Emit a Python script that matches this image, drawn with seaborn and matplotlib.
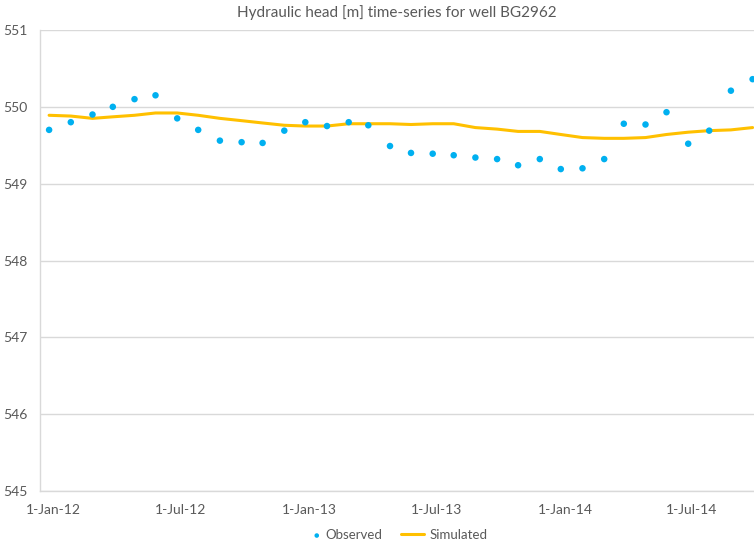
import pandas as pd
import matplotlib
matplotlib.use("Agg")
import matplotlib.pyplot as plt
import matplotlib.dates as mdates
from matplotlib.legend_handler import HandlerPathCollection
import seaborn as sns

# monthly observation dates
dates = [
    "2011-12-26", "2012-01-26", "2012-02-26", "2012-03-26", "2012-04-26", "2012-05-26",
    "2012-06-26", "2012-07-26", "2012-08-26", "2012-09-26", "2012-10-26", "2012-11-26",
    "2012-12-26", "2013-01-26", "2013-02-26", "2013-03-26", "2013-04-26", "2013-05-26",
    "2013-06-26", "2013-07-26", "2013-08-26", "2013-09-26", "2013-10-26", "2013-11-26",
    "2013-12-26", "2014-01-26", "2014-02-26", "2014-03-26", "2014-04-26", "2014-05-26",
    "2014-06-26", "2014-07-26", "2014-08-26", "2014-09-26",
]

observed = [
    549.70, 549.80, 549.90, 550.00, 550.10, 550.15, 549.85, 549.70, 549.56, 549.54,
    549.53, 549.69, 549.80, 549.75, 549.80, 549.76, 549.49, 549.40, 549.39, 549.37,
    549.34, 549.32, 549.24, 549.32, 549.19, 549.20, 549.32, 549.78, 549.77, 549.93,
    549.52, 549.69, 550.21, 550.36,
]

simulated = [
    549.89, 549.88, 549.85, 549.87, 549.89, 549.92, 549.92, 549.89, 549.85, 549.82,
    549.79, 549.76, 549.75, 549.75, 549.78, 549.78, 549.78, 549.77, 549.78, 549.78,
    549.73, 549.71, 549.68, 549.68, 549.64, 549.60, 549.59, 549.59, 549.60, 549.64,
    549.67, 549.69, 549.70, 549.73,
]

x_ticks = ["2012-01-01", "2012-07-01", "2013-01-01", "2013-07-01", "2014-01-01", "2014-07-01"]
y_ticks = [545, 546, 547, 548, 549, 550, 551]


class RightDot(HandlerPathCollection):
    # put the legend dot near the text, like the Excel legend
    def get_xdata(self, legend, xdescent, ydescent, width, height, fontsize):
        x = -xdescent + width - 0.2 * fontsize
        return [x], [x]


df = pd.DataFrame({
    "Date": pd.to_datetime(dates),
    "Observed": observed,
    "Simulated": simulated,
})

sns.set_theme(style="white")
plt.rcParams["font.family"] = ["Lato", "DejaVu Sans"]

text_col = "#595959"
grid_col = "#d9d9d9"

fig = plt.figure(figsize=(7.54, 5.43), dpi=100)
ax = fig.add_axes([40 / 754, 52 / 543, 714 / 754, 461 / 543])

sns.lineplot(data=df, x="Date", y="Simulated", ax=ax, color="#ffc000",
             linewidth=2.2, label="Simulated", zorder=2)
sns.scatterplot(data=df, x="Date", y="Observed", ax=ax, color="#00b0f0",
                s=22, edgecolor="none", label="Observed", zorder=3)

ax.set_xlim(pd.Timestamp("2011-12-13"), pd.Timestamp("2014-09-28"))
ax.set_ylim(545, 551)
ax.set_yticks(y_ticks)
ax.set_xticks(pd.to_datetime(x_ticks))
ax.xaxis.set_major_formatter(mdates.DateFormatter("%-d-%b-%y"))

ax.yaxis.grid(True, color=grid_col, linewidth=1)
ax.set_axisbelow(True)
for side in ["top", "right"]:
    ax.spines[side].set_visible(False)
for side in ["left", "bottom"]:
    ax.spines[side].set_color(grid_col)
    ax.spines[side].set_linewidth(1)

ax.tick_params(axis="both", length=0, labelsize=10, colors=text_col)
ax.tick_params(axis="y", pad=9)
ax.tick_params(axis="x", pad=9)
ax.set_xlabel("")
ax.set_ylabel("")

fig.suptitle("Hydraulic head [m] time-series for well BG2962", x=397 / 754, y=1 - 5 / 543,
             va="top", fontsize=11, color=text_col)

handles, labels = ax.get_legend_handles_labels()
order = [labels.index("Observed"), labels.index("Simulated")]
leg = fig.legend([handles[i] for i in order], [labels[i] for i in order],
                 loc="center", bbox_to_anchor=(392 / 754, 1 - 535 / 543), ncol=2,
                 frameon=False, fontsize=9.5, handlelength=1.75, columnspacing=1.4,
                 handletextpad=0.45, markerscale=0.7,
                 handler_map={type(handles[order[0]]): RightDot()})
for t in leg.get_texts():
    t.set_color(text_col)
if ax.get_legend():
    ax.get_legend().remove()

fig.savefig("out.png", dpi=100)
